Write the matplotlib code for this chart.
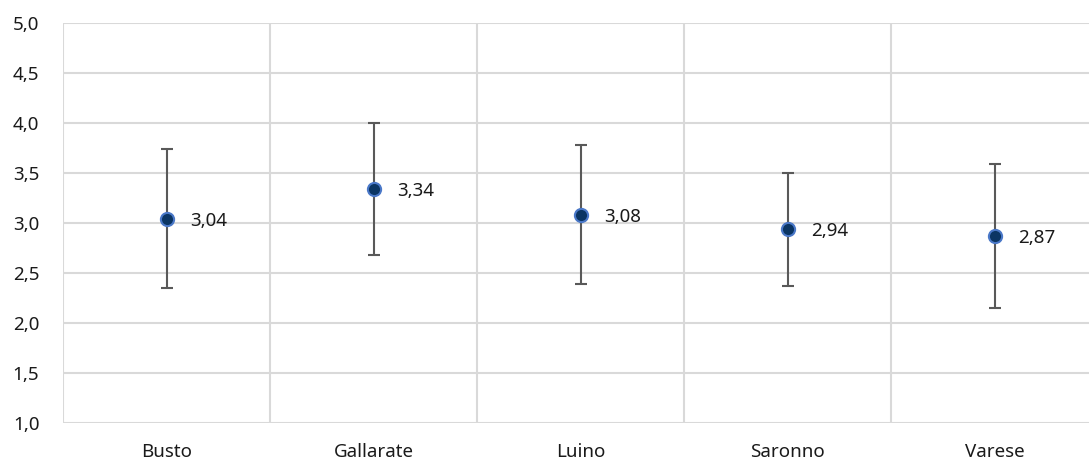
import numpy as np
import matplotlib.pyplot as plt

# data
cities = ['Busto', 'Gallarate', 'Luino', 'Saronno', 'Varese']
means = [3.04, 3.34, 3.08, 2.94, 2.87]
upper = [3.74, 4.00, 3.78, 3.50, 3.59]
lower = [2.35, 2.68, 2.39, 2.37, 2.15]
yticks = [1.0, 1.5, 2.0, 2.5, 3.0, 3.5, 4.0, 4.5, 5.0]

plt.rcParams['font.family'] = ['Noto Sans', 'DejaVu Sans']

fig = plt.figure(figsize=(10.89, 4.63), dpi=100)
ax = fig.add_axes([63/1089, 1 - 422.5/463, 1035/1089, 400/463])

x = np.arange(len(cities))
means = np.array(means)
err = [means - np.array(lower), np.array(upper) - means]

ax.errorbar(x, means, yerr=err, fmt='none', ecolor='#595959', elinewidth=1.5,
            capsize=4.5, capthick=1.5, zorder=3)
ax.plot(x, means, 'o', ms=9.5, mfc='#0b3563', mec='#4a78c8', mew=1.5, zorder=4)

for xi, m in zip(x, means):
    ax.annotate(f'{m:.2f}'.replace('.', ','), (xi, m), xytext=(17, -2),
                textcoords='offset points', va='center', ha='left',
                fontsize=13.5, color='#1a1a1a')

ax.set_xlim(-0.5, len(cities) - 0.5)
ax.set_ylim(1.0, 5.0)
ax.set_yticks(yticks)
ax.set_yticklabels([f'{t:.1f}'.replace('.', ',') for t in yticks])
ax.set_xticks(x)
ax.set_xticklabels(cities)

ax.set_xticks(np.arange(-0.5, len(cities), 1.0), minor=True)
ax.grid(True, axis='y', color='#d9d9d9', lw=1.5)
ax.grid(True, axis='x', which='minor', color='#d9d9d9', lw=1.5)
ax.grid(False, axis='x', which='major')
ax.set_axisbelow(True)

for s in ax.spines.values():
    s.set_visible(False)
ax.tick_params(axis='both', which='both', length=0, labelsize=13.5, colors='#1a1a1a')
ax.tick_params(axis='x', pad=15)
ax.tick_params(axis='y', pad=17)

fig.savefig('out.png', dpi=100)
